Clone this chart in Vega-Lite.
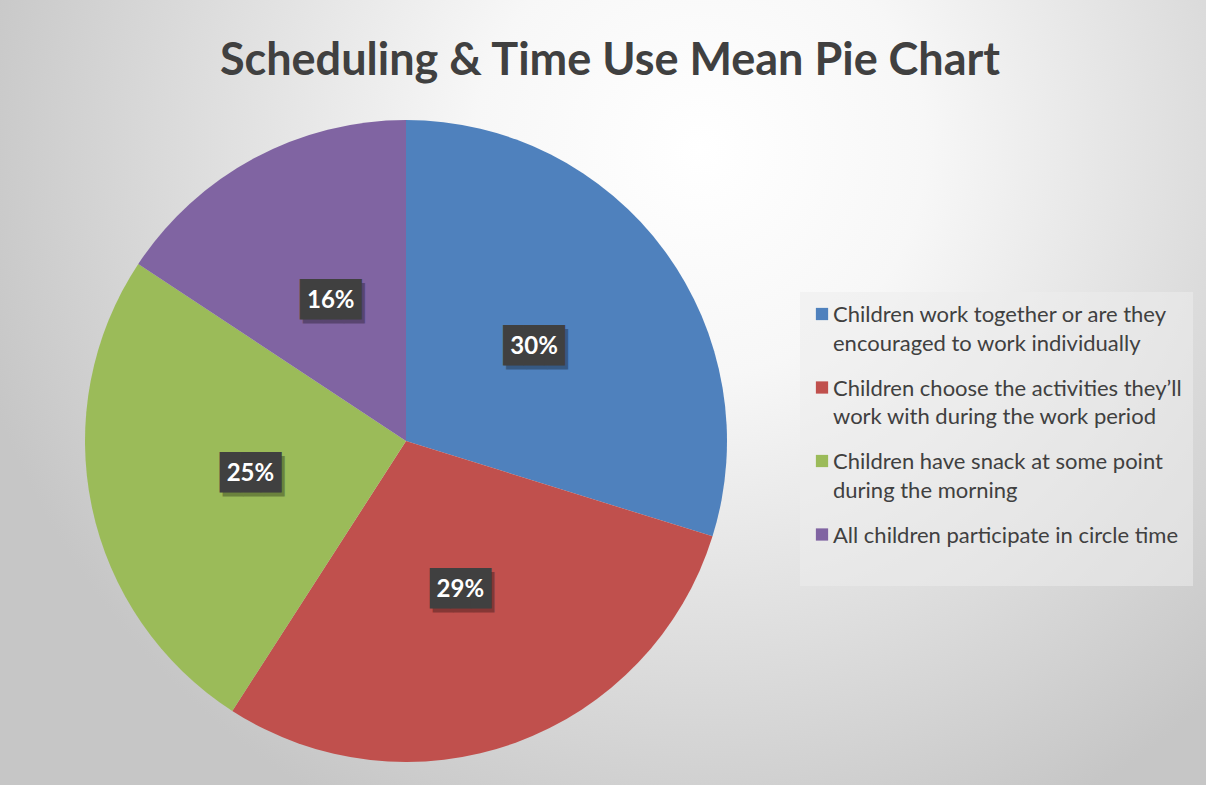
{
  "$schema": "https://vega.github.io/schema/vega-lite/v6.json",
  "width": 642,
  "height": 642,
  "autosize": {"type": "none"},
  "padding": {"left": 85, "top": 120, "right": 479, "bottom": 23},
  "background": "#d6d6d6",
  "config": {
    "view": {"stroke": null},
    "font": "Lato",
    "style": {"guide-label": {"lineHeight": 28.5, "dy": -9}}
  },
  "title": {
    "text": "Scheduling & Time Use Mean Pie Chart",
    "font": "Lato",
    "fontSize": 45,
    "fontWeight": "bold",
    "color": "#404040",
    "anchor": "middle",
    "frame": "group",
    "dx": 204,
    "baseline": "alphabetic",
    "offset": 0,
    "dy": 679
  },
  "data": {
    "values": [
      {"category": "Children work together or are they encouraged to work individually", "value": 29.8, "label": "30%"},
      {"category": "Children choose the activities they’ll work with during the work period", "value": 29.3, "label": "29%"},
      {"category": "Children have snack at some point during the morning", "value": 25.2, "label": "25%"},
      {"category": "All children participate in circle time", "value": 15.7, "label": "16%"}
    ]
  },
  "layer": [
    {
      "data": {"values": [{"bg": 1}]},
      "mark": {
        "type": "arc",
        "radius": 1000,
        "theta": 0,
        "theta2": 6.2832,
        "stroke": null,
        "fill": {
          "gradient": "radial",
          "x1": 0.647, "y1": 0.3545, "r1": 0,
          "x2": 0.647, "y2": 0.3545, "r2": 0.375,
          "stops": [
            {"offset": 0, "color": "#ffffff"},
            {"offset": 0.3, "color": "#f7f7f7"},
            {"offset": 0.6, "color": "#e2e2e2"},
            {"offset": 1, "color": "#c6c6c6"}
          ]
        }
      },
      "encoding": {}
    },
    {
      "mark": {"type": "arc", "stroke": null},
      "encoding": {
        "theta": {"field": "value", "type": "quantitative", "stack": true},
        "order": {"field": "value", "sort": "descending"},
        "color": {
          "field": "category",
          "type": "nominal",
          "scale": {
            "domain": [
              "Children work together or are they encouraged to work individually",
              "Children choose the activities they’ll work with during the work period",
              "Children have snack at some point during the morning",
              "All children participate in circle time"
            ],
            "range": ["#4F81BD", "#C0504D", "#9BBB59", "#8064A2"]
          },
          "legend": {
            "orient": "none",
            "legendX": 715,
            "legendY": 172,
            "title": null,
            "symbolType": "square",
            "symbolSize": 150,
            "symbolStrokeWidth": 0,
            "labelFont": "Lato",
            "labelFontSize": 22,
            "labelColor": "#404040",
            "labelLimit": 0,
            "labelBaseline": "top",
            "labelOffset": 0,
            "padding": 11,
            "rowPadding": 21.5,
            "fillColor": "rgba(236,236,236,0.55)",
            "labelExpr": "datum.label == 'Children work together or are they encouraged to work individually' ? ['Children work together or are they', 'encouraged to work individually'] : datum.label == 'Children choose the activities they’ll work with during the work period' ? ['Children choose the activities they’ll', 'work with during the work period'] : datum.label == 'Children have snack at some point during the morning' ? ['Children have snack at some point', 'during the morning'] : [datum.label, ' ']"
          }
        }
      }
    },
    {
      "mark": {"type": "text", "radius": 159, "text": "███", "font": "DejaVu Sans Mono", "fontSize": 34, "color": "#000000", "opacity": 0.3, "dx": 3, "dy": 4, "baseline": "middle"},
      "encoding": {
        "theta": {"field": "value", "type": "quantitative", "stack": true},
        "order": {"field": "value", "sort": "descending"}
      }
    },
    {
      "mark": {"type": "text", "radius": 159, "text": "███", "font": "DejaVu Sans Mono", "fontSize": 34, "color": "#404040", "baseline": "middle"},
      "encoding": {
        "theta": {"field": "value", "type": "quantitative", "stack": true},
        "order": {"field": "value", "sort": "descending"}
      }
    },
    {
      "mark": {"type": "text", "radius": 159, "font": "Lato", "fontSize": 24, "fontWeight": "bold", "color": "#ffffff", "baseline": "middle"},
      "encoding": {
        "theta": {"field": "value", "type": "quantitative", "stack": true},
        "order": {"field": "value", "sort": "descending"},
        "text": {"field": "label", "type": "nominal"}
      }
    }
  ]
}
